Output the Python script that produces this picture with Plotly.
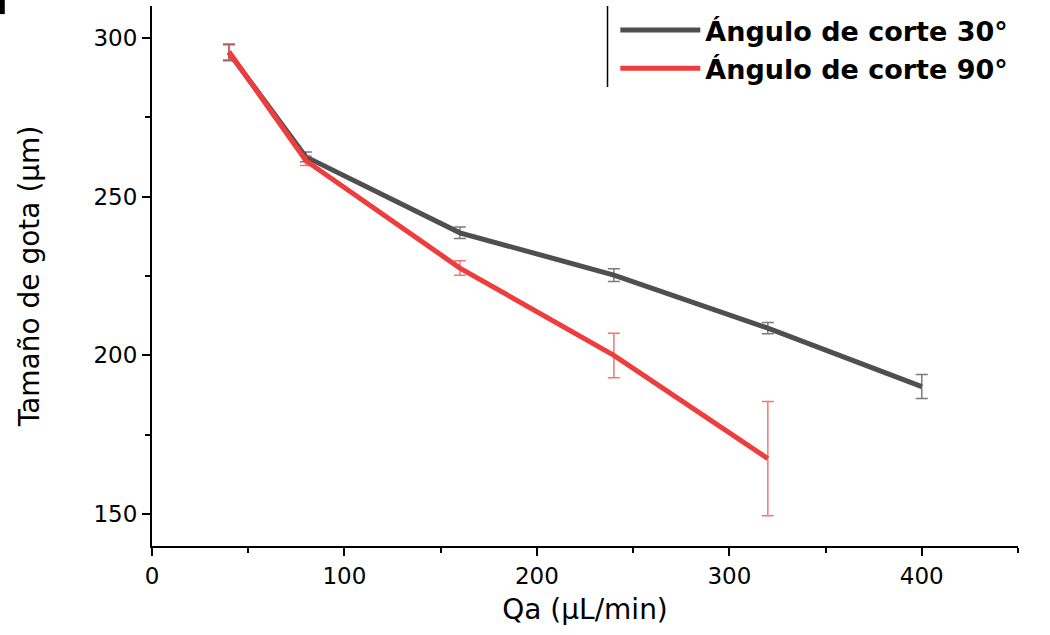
import plotly.graph_objects as go

qa_30 = [40, 80, 160, 240, 320, 400]
size_30 = [295.3, 262.5, 238.6, 225.3, 208.6, 190.2]
err_30 = [2.5, 1.5, 1.8, 2.0, 1.8, 3.8]

qa_90 = [40, 80, 160, 240, 320]
size_90 = [295.6, 261.3, 227.5, 200.0, 167.5]
err_90 = [2.5, 1.5, 2.3, 7.0, 18.0]

names = ["Ángulo de corte 30°", "Ángulo de corte 90°"]
line_colors = ["#4f4f4f", "#ef3c3c"]
err_colors = ["rgba(79,79,79,0.75)", "rgba(239,60,60,0.7)"]

fig = go.Figure()
for x, y, e, n, lc, ec in [(qa_30, size_30, err_30, names[0], line_colors[0], err_colors[0]),
                           (qa_90, size_90, err_90, names[1], line_colors[1], err_colors[1])]:
    fig.add_trace(go.Scatter(
        x=x, y=y, mode="lines", name=n,
        line=dict(color=lc, width=5),
        error_y=dict(type="data", array=e, visible=True, color=ec, thickness=1.5, width=6),
    ))

font_family = "DejaVu Sans, Liberation Sans, sans-serif"
fig.update_layout(
    width=1050, height=635,
    margin=dict(l=152, r=32, t=6, b=89, autoexpand=False),
    plot_bgcolor="white", paper_bgcolor="white",
    font=dict(family=font_family, color="black"),
    showlegend=True,
    legend=dict(x=0.535, y=1.0, xanchor="left", yanchor="top",
                font=dict(size=27, family=font_family, weight="bold", color="black"),
                itemwidth=80, bgcolor="rgba(0,0,0,0)", tracegroupgap=0),
    xaxis=dict(range=[0, 450], tickvals=[0, 100, 200, 300, 400],
               showgrid=False, zeroline=False, showline=True, linecolor="black", linewidth=2,
               ticks="outside", ticklen=8, tickwidth=2, tickcolor="black",
               tickfont=dict(size=23),
               minor=dict(ticks="outside", ticklen=5, tickwidth=2, tickcolor="black", dtick=50, tick0=0, showgrid=False),
               title=dict(text="Qa (µL/min)", font=dict(size=28), standoff=12)),
    yaxis=dict(range=[140, 310], tickvals=[150, 200, 250, 300],
               showgrid=False, zeroline=False, showline=True, linecolor="black", linewidth=2,
               ticks="outside", ticklen=8, tickwidth=2, tickcolor="black",
               tickfont=dict(size=23),
               minor=dict(ticks="outside", ticklen=5, tickwidth=2, tickcolor="black", dtick=25, tick0=0, showgrid=False),
               title=dict(text="Tamaño de gota (µm)", font=dict(size=28), standoff=46)),
)

fig.add_shape(type="line", xref="paper", yref="paper", x0=0.526, x1=0.526, y0=0.85, y1=1.0,
              line=dict(color="black", width=1.5))
fig.add_shape(type="rect", xref="paper", yref="paper", x0=-0.176, x1=-0.17, y0=0.985, y1=1.012,
              fillcolor="black", line=dict(width=0))

fig.write_html("out.html")
